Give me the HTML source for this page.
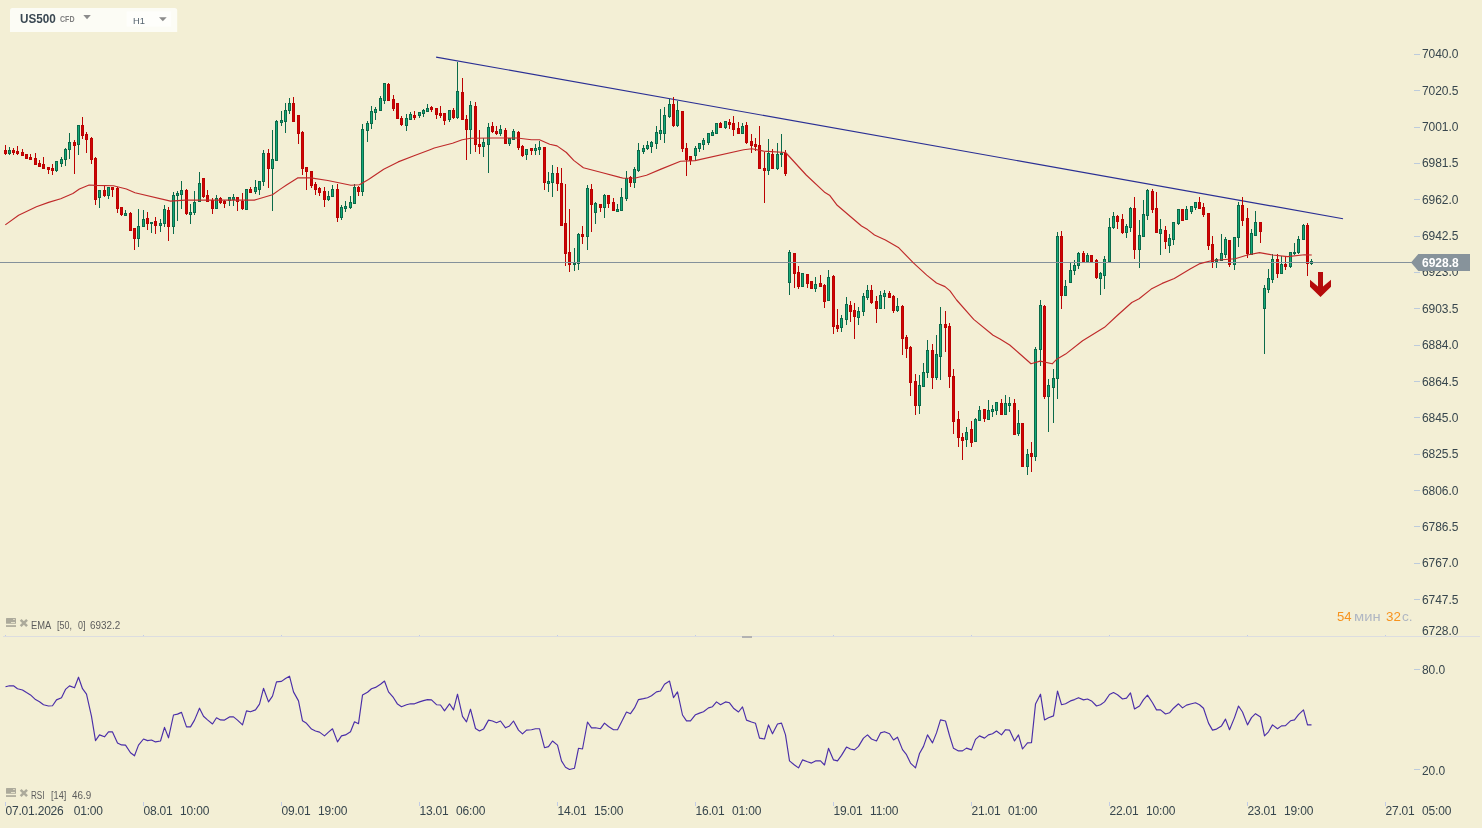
<!DOCTYPE html>
<html><head><meta charset="utf-8"><title>US500 H1</title>
<style>
html,body{margin:0;padding:0}
body{width:1482px;height:828px;overflow:hidden;background:#f3efd5;font-family:"Liberation Sans",sans-serif;position:relative}
.a{position:absolute;white-space:pre;line-height:1}
.pl{font-size:12px;color:#37464d;left:1422px;letter-spacing:-0.08px}
.tl{font-size:12px;color:#37464d;top:805px;letter-spacing:-0.2px}
.lg{font-size:10px;color:#5c5c5c}
svg{position:absolute;left:0;top:0}
</style></head><body>

<svg width="1482" height="828" viewBox="0 0 1482 828">
<rect x="3" y="636" width="1477" height="1" fill="#dcdde0"/>
<rect x="742" y="636" width="10" height="2" fill="#b2b2b2"/>
<path d="M5 635h1v1h-1zM5 802h1v4h-1zM143 635h1v1h-1zM143 802h1v4h-1zM281 635h1v1h-1zM281 802h1v4h-1zM419 635h1v1h-1zM419 802h1v4h-1zM557 635h1v1h-1zM557 802h1v4h-1zM695 635h1v1h-1zM695 802h1v4h-1zM833 635h1v1h-1zM833 802h1v4h-1zM971 635h1v1h-1zM971 802h1v4h-1zM1109 635h1v1h-1zM1109 802h1v4h-1zM1247 635h1v1h-1zM1247 802h1v4h-1zM1385 635h1v1h-1zM1385 802h1v4h-1z" fill="#c2cce6" shape-rendering="crispEdges"/>
<path d="M1414 54h6v1h-6zM1414 90h6v1h-6zM1414 127h6v1h-6zM1414 163h6v1h-6zM1414 199h6v1h-6zM1414 236h6v1h-6zM1414 272h6v1h-6zM1414 308h6v1h-6zM1414 345h6v1h-6zM1414 381h6v1h-6zM1414 417h6v1h-6zM1414 454h6v1h-6zM1414 490h6v1h-6zM1414 526h6v1h-6zM1414 563h6v1h-6zM1414 599h6v1h-6zM1414 669h6v1h-6zM1414 769h6v1h-6z" fill="#bccbdc" shape-rendering="crispEdges"/>
<line x1="436.1" y1="57.1" x2="1343" y2="218.7" stroke="#2a2f94" stroke-width="1.15"/>
<g shape-rendering="crispEdges"><path d="M9 147h1v8h-1zM56 161h1v11h-1zM61 157h1v10h-1zM65 148h1v18h-1zM69 133h1v26h-1zM78 125h1v30h-1zM99 190h1v18h-1zM108 187h1v12h-1zM125 210h1v6h-1zM138 209h1v38h-1zM143 210h1v17h-1zM151 222h1v11h-1zM160 219h1v13h-1zM164 205h1v22h-1zM173 192h1v42h-1zM177 191h1v30h-1zM181 181h1v28h-1zM190 204h1v20h-1zM194 191h1v24h-1zM199 172h1v30h-1zM216 195h1v14h-1zM229 197h1v9h-1zM233 194h1v12h-1zM246 189h1v21h-1zM255 180h1v14h-1zM259 181h1v14h-1zM263 150h1v36h-1zM272 130h1v81h-1zM276 120h1v41h-1zM281 111h1v15h-1zM285 103h1v30h-1zM289 98h1v16h-1zM328 191h1v10h-1zM332 185h1v12h-1zM341 205h1v15h-1zM345 201h1v11h-1zM350 196h1v13h-1zM354 184h1v20h-1zM362 124h1v72h-1zM367 121h1v21h-1zM371 106h1v23h-1zM375 107h1v13h-1zM380 96h1v15h-1zM384 83h1v21h-1zM406 114h1v17h-1zM410 112h1v8h-1zM419 112h1v6h-1zM423 109h1v8h-1zM427 104h1v8h-1zM449 110h1v12h-1zM457 62h1v57h-1zM470 101h1v53h-1zM483 138h1v19h-1zM488 123h1v50h-1zM500 125h1v11h-1zM509 138h1v8h-1zM513 129h1v11h-1zM526 149h1v11h-1zM535 144h1v11h-1zM539 141h1v14h-1zM548 172h1v20h-1zM552 165h1v32h-1zM574 248h1v23h-1zM578 233h1v37h-1zM587 185h1v65h-1zM595 202h1v22h-1zM604 194h1v24h-1zM617 204h1v8h-1zM621 188h1v23h-1zM626 171h1v30h-1zM634 167h1v21h-1zM638 143h1v29h-1zM643 145h1v9h-1zM647 141h1v9h-1zM651 141h1v12h-1zM656 126h1v23h-1zM660 109h1v31h-1zM664 107h1v36h-1zM669 99h1v19h-1zM677 101h1v26h-1zM695 146h1v15h-1zM699 143h1v9h-1zM703 138h1v12h-1zM708 133h1v12h-1zM712 130h1v6h-1zM716 123h1v11h-1zM725 121h1v8h-1zM742 123h1v11h-1zM768 139h1v36h-1zM777 143h1v27h-1zM781 134h1v33h-1zM789 250h1v45h-1zM802 273h1v14h-1zM815 277h1v15h-1zM828 270h1v31h-1zM841 315h1v17h-1zM846 297h1v28h-1zM858 307h1v18h-1zM863 293h1v23h-1zM867 285h1v15h-1zM880 291h1v18h-1zM884 290h1v19h-1zM897 298h1v14h-1zM919 375h1v39h-1zM923 363h1v24h-1zM927 340h1v38h-1zM936 335h1v45h-1zM940 307h1v73h-1zM966 427h1v20h-1zM975 418h1v24h-1zM979 406h1v15h-1zM988 400h1v20h-1zM992 405h1v12h-1zM996 402h1v13h-1zM1005 395h1v20h-1zM1009 397h1v15h-1zM1018 410h1v26h-1zM1027 449h1v26h-1zM1035 347h1v114h-1zM1040 300h1v66h-1zM1048 379h1v53h-1zM1053 369h1v54h-1zM1057 232h1v167h-1zM1065 280h1v16h-1zM1070 263h1v20h-1zM1074 260h1v15h-1zM1078 252h1v17h-1zM1087 253h1v9h-1zM1100 272h1v23h-1zM1104 256h1v33h-1zM1109 218h1v44h-1zM1113 212h1v17h-1zM1126 224h1v14h-1zM1130 207h1v25h-1zM1139 220h1v48h-1zM1143 200h1v37h-1zM1147 189h1v31h-1zM1160 219h1v36h-1zM1169 234h1v19h-1zM1173 222h1v23h-1zM1178 209h1v16h-1zM1186 206h1v14h-1zM1191 206h1v8h-1zM1195 202h1v8h-1zM1216 258h1v10h-1zM1221 234h1v27h-1zM1225 237h1v21h-1zM1234 237h1v33h-1zM1238 202h1v45h-1zM1251 229h1v26h-1zM1255 211h1v25h-1zM1264 285h1v69h-1zM1268 269h1v24h-1zM1272 254h1v29h-1zM1281 256h1v18h-1zM1290 252h1v16h-1zM1294 243h1v12h-1zM1298 236h1v18h-1zM1303 224h1v16h-1zM1311 259h1v6h-1z" fill="#0b6a4a"/><path d="M5 145h1v10h-1zM13 148h1v7h-1zM17 146h1v9h-1zM22 149h1v7h-1zM26 154h1v5h-1zM30 154h1v6h-1zM35 153h1v12h-1zM39 160h1v7h-1zM43 157h1v12h-1zM48 167h1v7h-1zM52 164h1v11h-1zM74 140h1v34h-1zM82 117h1v22h-1zM86 132h1v21h-1zM91 137h1v27h-1zM95 157h1v48h-1zM104 186h1v11h-1zM112 187h1v10h-1zM117 187h1v26h-1zM121 207h1v9h-1zM130 212h1v19h-1zM134 228h1v22h-1zM147 212h1v18h-1zM155 217h1v17h-1zM168 207h1v34h-1zM186 189h1v26h-1zM203 178h1v20h-1zM207 190h1v12h-1zM212 198h1v16h-1zM220 197h1v7h-1zM224 200h1v8h-1zM237 197h1v14h-1zM242 193h1v17h-1zM250 187h1v6h-1zM268 149h1v39h-1zM293 97h1v25h-1zM298 115h1v29h-1zM302 131h1v44h-1zM306 167h1v23h-1zM311 171h1v17h-1zM315 182h1v13h-1zM319 187h1v9h-1zM324 187h1v20h-1zM337 184h1v38h-1zM358 186h1v10h-1zM388 83h1v18h-1zM393 95h1v16h-1zM397 103h1v16h-1zM401 116h1v10h-1zM414 111h1v9h-1zM431 106h1v6h-1zM436 108h1v11h-1zM440 106h1v12h-1zM444 113h1v12h-1zM453 108h1v11h-1zM462 78h1v42h-1zM466 115h1v45h-1zM475 102h1v50h-1zM479 130h1v24h-1zM492 122h1v11h-1zM496 126h1v9h-1zM505 128h1v16h-1zM518 131h1v19h-1zM522 145h1v12h-1zM531 148h1v7h-1zM544 147h1v43h-1zM557 167h1v24h-1zM561 168h1v58h-1zM565 184h1v82h-1zM569 209h1v63h-1zM582 226h1v18h-1zM591 184h1v48h-1zM600 204h1v8h-1zM608 195h1v13h-1zM613 198h1v13h-1zM630 176h1v11h-1zM673 97h1v30h-1zM682 111h1v41h-1zM686 143h1v33h-1zM690 156h1v9h-1zM720 122h1v6h-1zM729 119h1v10h-1zM733 116h1v20h-1zM738 122h1v12h-1zM746 122h1v22h-1zM751 134h1v19h-1zM755 138h1v13h-1zM759 126h1v43h-1zM764 152h1v51h-1zM772 149h1v20h-1zM785 150h1v26h-1zM794 253h1v35h-1zM798 266h1v23h-1zM807 274h1v14h-1zM811 281h1v8h-1zM820 275h1v12h-1zM824 284h1v24h-1zM833 275h1v59h-1zM837 309h1v23h-1zM850 301h1v21h-1zM854 303h1v36h-1zM871 285h1v19h-1zM876 296h1v27h-1zM889 291h1v7h-1zM893 295h1v18h-1zM902 305h1v50h-1zM906 335h1v23h-1zM910 346h1v50h-1zM915 374h1v41h-1zM932 344h1v45h-1zM945 311h1v41h-1zM949 323h1v65h-1zM953 369h1v65h-1zM958 411h1v36h-1zM962 433h1v27h-1zM971 421h1v26h-1zM984 409h1v13h-1zM1001 399h1v16h-1zM1014 399h1v36h-1zM1022 423h1v44h-1zM1031 442h1v30h-1zM1044 305h1v94h-1zM1061 231h1v78h-1zM1083 251h1v11h-1zM1091 255h1v7h-1zM1096 259h1v20h-1zM1117 215h1v14h-1zM1122 214h1v20h-1zM1134 197h1v62h-1zM1152 189h1v24h-1zM1156 192h1v41h-1zM1165 226h1v23h-1zM1182 209h1v12h-1zM1199 197h1v12h-1zM1203 203h1v14h-1zM1208 213h1v37h-1zM1212 236h1v32h-1zM1229 240h1v27h-1zM1242 197h1v29h-1zM1247 208h1v50h-1zM1260 222h1v21h-1zM1277 254h1v24h-1zM1285 257h1v13h-1zM1307 223h1v53h-1z" fill="#bb0202"/><path d="M8 150h3v4h-3zM55 161h3v10h-3zM60 159h3v5h-3zM64 149h3v11h-3zM68 142h3v8h-3zM77 125h3v20h-3zM98 190h3v8h-3zM107 187h3v9h-3zM124 213h3v3h-3zM137 226h3v13h-3zM142 219h3v8h-3zM150 222h3v2h-3zM159 223h3v3h-3zM163 209h3v15h-3zM172 195h3v32h-3zM176 193h3v3h-3zM180 190h3v5h-3zM189 212h3v3h-3zM193 202h3v11h-3zM198 183h3v19h-3zM215 198h3v11h-3zM228 197h3v4h-3zM232 197h3v3h-3zM245 189h3v21h-3zM254 187h3v5h-3zM258 181h3v9h-3zM262 153h3v29h-3zM271 159h3v10h-3zM275 121h3v40h-3zM280 120h3v3h-3zM284 110h3v12h-3zM288 103h3v8h-3zM327 196h3v4h-3zM331 189h3v8h-3zM340 207h3v11h-3zM344 206h3v3h-3zM349 202h3v6h-3zM353 187h3v17h-3zM361 129h3v63h-3zM366 123h3v8h-3zM370 111h3v13h-3zM374 109h3v4h-3zM379 98h3v13h-3zM383 83h3v18h-3zM405 118h3v8h-3zM409 114h3v6h-3zM418 112h3v4h-3zM422 110h3v4h-3zM426 108h3v4h-3zM448 110h3v10h-3zM456 91h3v27h-3zM469 105h3v25h-3zM482 142h3v5h-3zM487 127h3v18h-3zM499 129h3v5h-3zM508 138h3v6h-3zM512 131h3v9h-3zM525 149h3v6h-3zM534 148h3v3h-3zM538 147h3v3h-3zM547 181h3v3h-3zM551 173h3v10h-3zM573 263h3v2h-3zM577 234h3v30h-3zM586 188h3v49h-3zM594 203h3v10h-3zM603 195h3v13h-3zM616 209h3v3h-3zM620 197h3v14h-3zM625 178h3v21h-3zM633 169h3v14h-3zM637 150h3v21h-3zM642 148h3v4h-3zM646 145h3v4h-3zM650 142h3v5h-3zM655 132h3v12h-3zM659 130h3v4h-3zM663 115h3v19h-3zM668 104h3v13h-3zM676 110h3v16h-3zM694 148h3v8h-3zM698 143h3v6h-3zM702 140h3v5h-3zM707 133h3v10h-3zM711 132h3v4h-3zM715 123h3v11h-3zM724 121h3v7h-3zM741 126h3v8h-3zM767 153h3v18h-3zM776 154h3v15h-3zM780 153h3v2h-3zM788 252h3v31h-3zM801 273h3v14h-3zM814 284h3v5h-3zM827 277h3v24h-3zM840 318h3v10h-3zM845 304h3v16h-3zM857 311h3v7h-3zM862 296h3v16h-3zM866 290h3v8h-3zM879 295h3v14h-3zM883 293h3v4h-3zM896 306h3v5h-3zM918 385h3v21h-3zM922 372h3v15h-3zM926 350h3v23h-3zM935 354h3v24h-3zM939 324h3v33h-3zM965 432h3v8h-3zM974 419h3v23h-3zM978 410h3v11h-3zM987 410h3v10h-3zM991 409h3v3h-3zM995 402h3v9h-3zM1004 403h3v12h-3zM1008 403h3v3h-3zM1017 423h3v11h-3zM1026 454h3v13h-3zM1034 349h3v108h-3zM1039 305h3v45h-3zM1047 385h3v12h-3zM1052 378h3v10h-3zM1056 236h3v143h-3zM1064 286h3v10h-3zM1069 270h3v13h-3zM1073 265h3v6h-3zM1077 253h3v13h-3zM1086 255h3v7h-3zM1099 273h3v6h-3zM1103 259h3v17h-3zM1108 227h3v35h-3zM1112 216h3v12h-3zM1125 226h3v7h-3zM1129 208h3v20h-3zM1138 235h3v15h-3zM1142 214h3v23h-3zM1146 190h3v26h-3zM1159 229h3v5h-3zM1168 238h3v8h-3zM1172 222h3v18h-3zM1177 209h3v15h-3zM1185 209h3v11h-3zM1190 206h3v6h-3zM1194 202h3v6h-3zM1215 259h3v3h-3zM1220 253h3v8h-3zM1224 239h3v16h-3zM1233 237h3v28h-3zM1237 205h3v33h-3zM1250 233h3v22h-3zM1254 222h3v14h-3zM1263 288h3v21h-3zM1267 278h3v12h-3zM1271 259h3v21h-3zM1280 264h3v10h-3zM1289 252h3v15h-3zM1293 252h3v2h-3zM1297 239h3v14h-3zM1302 225h3v15h-3zM1310 261h3v3h-3z" fill="#0b6a4a"/><path d="M9 151h1v2h-1zM56 162h1v8h-1zM61 160h1v3h-1zM65 150h1v9h-1zM69 143h1v6h-1zM78 126h1v18h-1zM99 191h1v6h-1zM108 188h1v7h-1zM125 214h1v1h-1zM138 227h1v11h-1zM143 220h1v6h-1zM160 224h1v1h-1zM164 210h1v13h-1zM173 196h1v30h-1zM177 194h1v1h-1zM181 191h1v3h-1zM190 213h1v1h-1zM194 203h1v9h-1zM199 184h1v17h-1zM216 199h1v9h-1zM229 198h1v2h-1zM233 198h1v1h-1zM246 190h1v19h-1zM255 188h1v3h-1zM259 182h1v7h-1zM263 154h1v27h-1zM272 160h1v8h-1zM276 122h1v38h-1zM281 121h1v1h-1zM285 111h1v10h-1zM289 104h1v6h-1zM328 197h1v2h-1zM332 190h1v6h-1zM341 208h1v9h-1zM345 207h1v1h-1zM350 203h1v4h-1zM354 188h1v15h-1zM362 130h1v61h-1zM367 124h1v6h-1zM371 112h1v11h-1zM375 110h1v2h-1zM380 99h1v11h-1zM384 84h1v16h-1zM406 119h1v6h-1zM410 115h1v4h-1zM419 113h1v2h-1zM423 111h1v2h-1zM427 109h1v2h-1zM449 111h1v8h-1zM457 92h1v25h-1zM470 106h1v23h-1zM483 143h1v3h-1zM488 128h1v16h-1zM500 130h1v3h-1zM509 139h1v4h-1zM513 132h1v7h-1zM526 150h1v4h-1zM535 149h1v1h-1zM539 148h1v1h-1zM548 182h1v1h-1zM552 174h1v8h-1zM578 235h1v28h-1zM587 189h1v47h-1zM595 204h1v8h-1zM604 196h1v11h-1zM617 210h1v1h-1zM621 198h1v12h-1zM626 179h1v19h-1zM634 170h1v12h-1zM638 151h1v19h-1zM643 149h1v2h-1zM647 146h1v2h-1zM651 143h1v3h-1zM656 133h1v10h-1zM660 131h1v2h-1zM664 116h1v17h-1zM669 105h1v11h-1zM677 111h1v14h-1zM695 149h1v6h-1zM699 144h1v4h-1zM703 141h1v3h-1zM708 134h1v8h-1zM712 133h1v2h-1zM716 124h1v9h-1zM725 122h1v5h-1zM742 127h1v6h-1zM768 154h1v16h-1zM777 155h1v13h-1zM789 253h1v29h-1zM802 274h1v12h-1zM815 285h1v3h-1zM828 278h1v22h-1zM841 319h1v8h-1zM846 305h1v14h-1zM858 312h1v5h-1zM863 297h1v14h-1zM867 291h1v6h-1zM880 296h1v12h-1zM884 294h1v2h-1zM897 307h1v3h-1zM919 386h1v19h-1zM923 373h1v13h-1zM927 351h1v21h-1zM936 355h1v22h-1zM940 325h1v31h-1zM966 433h1v6h-1zM975 420h1v21h-1zM979 411h1v9h-1zM988 411h1v8h-1zM992 410h1v1h-1zM996 403h1v7h-1zM1005 404h1v10h-1zM1009 404h1v1h-1zM1018 424h1v9h-1zM1027 455h1v11h-1zM1035 350h1v106h-1zM1040 306h1v43h-1zM1048 386h1v10h-1zM1053 379h1v8h-1zM1057 237h1v141h-1zM1065 287h1v8h-1zM1070 271h1v11h-1zM1074 266h1v4h-1zM1078 254h1v11h-1zM1087 256h1v5h-1zM1100 274h1v4h-1zM1104 260h1v15h-1zM1109 228h1v33h-1zM1113 217h1v10h-1zM1126 227h1v5h-1zM1130 209h1v18h-1zM1139 236h1v13h-1zM1143 215h1v21h-1zM1147 191h1v24h-1zM1160 230h1v3h-1zM1169 239h1v6h-1zM1173 223h1v16h-1zM1178 210h1v13h-1zM1186 210h1v9h-1zM1191 207h1v4h-1zM1195 203h1v4h-1zM1216 260h1v1h-1zM1221 254h1v6h-1zM1225 240h1v14h-1zM1234 238h1v26h-1zM1238 206h1v31h-1zM1251 234h1v20h-1zM1255 223h1v12h-1zM1264 289h1v19h-1zM1268 279h1v10h-1zM1272 260h1v19h-1zM1281 265h1v8h-1zM1290 253h1v13h-1zM1298 240h1v12h-1zM1303 226h1v13h-1zM1311 262h1v1h-1z" fill="#14a878"/><path d="M4 150h3v4h-3zM12 150h3v3h-3zM16 151h3v3h-3zM21 152h3v4h-3zM25 154h3v5h-3zM29 157h3v3h-3zM34 158h3v7h-3zM38 163h3v4h-3zM42 164h3v5h-3zM47 167h3v3h-3zM51 168h3v3h-3zM73 142h3v4h-3zM81 125h3v11h-3zM85 134h3v6h-3zM90 138h3v22h-3zM94 158h3v42h-3zM103 190h3v6h-3zM111 187h3v3h-3zM116 188h3v21h-3zM120 207h3v8h-3zM129 213h3v18h-3zM133 228h3v11h-3zM146 218h3v6h-3zM154 221h3v5h-3zM167 210h3v17h-3zM185 190h3v24h-3zM202 178h3v19h-3zM206 195h3v7h-3zM211 200h3v9h-3zM219 198h3v5h-3zM223 201h3v3h-3zM236 197h3v5h-3zM241 201h3v8h-3zM249 189h3v4h-3zM267 153h3v16h-3zM292 103h3v19h-3zM297 115h3v19h-3zM301 132h3v37h-3zM305 167h3v5h-3zM310 171h3v15h-3zM314 184h3v6h-3zM318 188h3v5h-3zM323 191h3v9h-3zM336 189h3v29h-3zM357 187h3v5h-3zM387 84h3v17h-3zM392 99h3v10h-3zM396 103h3v16h-3zM400 118h3v7h-3zM413 115h3v3h-3zM430 107h3v3h-3zM435 108h3v7h-3zM439 113h3v3h-3zM443 113h3v8h-3zM452 110h3v8h-3zM461 92h3v28h-3zM465 119h3v11h-3zM474 106h3v39h-3zM478 144h3v3h-3zM491 126h3v6h-3zM495 131h3v3h-3zM504 130h3v14h-3zM517 132h3v16h-3zM521 146h3v10h-3zM530 148h3v3h-3zM543 147h3v36h-3zM556 173h3v11h-3zM560 183h3v43h-3zM564 223h3v31h-3zM568 252h3v13h-3zM581 234h3v3h-3zM590 189h3v16h-3zM599 204h3v4h-3zM607 195h3v9h-3zM612 202h3v9h-3zM629 177h3v6h-3zM672 104h3v22h-3zM681 111h3v38h-3zM685 148h3v12h-3zM689 156h3v5h-3zM719 123h3v5h-3zM728 122h3v3h-3zM732 123h3v7h-3zM737 128h3v6h-3zM745 125h3v18h-3zM750 141h3v5h-3zM754 144h3v3h-3zM758 145h3v24h-3zM763 168h3v3h-3zM771 154h3v15h-3zM784 153h3v21h-3zM793 253h3v21h-3zM797 272h3v15h-3zM806 274h3v10h-3zM810 281h3v8h-3zM819 283h3v4h-3zM823 285h3v17h-3zM832 276h3v51h-3zM836 325h3v4h-3zM849 305h3v7h-3zM853 310h3v7h-3zM870 290h3v13h-3zM875 301h3v8h-3zM888 293h3v5h-3zM892 296h3v15h-3zM901 306h3v33h-3zM905 337h3v12h-3zM909 347h3v36h-3zM914 381h3v25h-3zM931 350h3v28h-3zM944 324h3v4h-3zM948 326h3v51h-3zM952 376h3v46h-3zM957 419h3v19h-3zM961 437h3v4h-3zM970 429h3v14h-3zM983 409h3v10h-3zM1000 403h3v12h-3zM1013 403h3v32h-3zM1021 423h3v44h-3zM1030 453h3v4h-3zM1043 306h3v91h-3zM1060 236h3v60h-3zM1082 253h3v9h-3zM1090 255h3v7h-3zM1095 260h3v18h-3zM1116 216h3v6h-3zM1121 219h3v14h-3zM1133 208h3v42h-3zM1151 191h3v19h-3zM1155 208h3v25h-3zM1164 230h3v12h-3zM1181 209h3v12h-3zM1198 202h3v7h-3zM1202 207h3v8h-3zM1207 213h3v33h-3zM1211 244h3v18h-3zM1228 240h3v25h-3zM1241 205h3v16h-3zM1246 218h3v36h-3zM1259 222h3v10h-3zM1276 259h3v15h-3zM1284 264h3v3h-3zM1306 225h3v39h-3z" fill="#bb0202"/><path d="M5 151h1v2h-1zM13 151h1v1h-1zM17 152h1v1h-1zM22 153h1v2h-1zM26 155h1v3h-1zM30 158h1v1h-1zM35 159h1v5h-1zM39 164h1v2h-1zM43 165h1v3h-1zM48 168h1v1h-1zM52 169h1v1h-1zM74 143h1v2h-1zM82 126h1v9h-1zM86 135h1v4h-1zM91 139h1v20h-1zM95 159h1v40h-1zM104 191h1v4h-1zM112 188h1v1h-1zM117 189h1v19h-1zM121 208h1v6h-1zM130 214h1v16h-1zM134 229h1v9h-1zM147 219h1v4h-1zM155 222h1v3h-1zM168 211h1v15h-1zM186 191h1v22h-1zM203 179h1v17h-1zM207 196h1v5h-1zM212 201h1v7h-1zM220 199h1v3h-1zM224 202h1v1h-1zM237 198h1v3h-1zM242 202h1v6h-1zM250 190h1v2h-1zM268 154h1v14h-1zM293 104h1v17h-1zM298 116h1v17h-1zM302 133h1v35h-1zM306 168h1v3h-1zM311 172h1v13h-1zM315 185h1v4h-1zM319 189h1v3h-1zM324 192h1v7h-1zM337 190h1v27h-1zM358 188h1v3h-1zM388 85h1v15h-1zM393 100h1v8h-1zM397 104h1v14h-1zM401 119h1v5h-1zM414 116h1v1h-1zM431 108h1v1h-1zM436 109h1v5h-1zM440 114h1v1h-1zM444 114h1v6h-1zM453 111h1v6h-1zM462 93h1v26h-1zM466 120h1v9h-1zM475 107h1v37h-1zM479 145h1v1h-1zM492 127h1v4h-1zM496 132h1v1h-1zM505 131h1v12h-1zM518 133h1v14h-1zM522 147h1v8h-1zM531 149h1v1h-1zM544 148h1v34h-1zM557 174h1v9h-1zM561 184h1v41h-1zM565 224h1v29h-1zM569 253h1v11h-1zM582 235h1v1h-1zM591 190h1v14h-1zM600 205h1v2h-1zM608 196h1v7h-1zM613 203h1v7h-1zM630 178h1v4h-1zM673 105h1v20h-1zM682 112h1v36h-1zM686 149h1v10h-1zM690 157h1v3h-1zM720 124h1v3h-1zM729 123h1v1h-1zM733 124h1v5h-1zM738 129h1v4h-1zM746 126h1v16h-1zM751 142h1v3h-1zM755 145h1v1h-1zM759 146h1v22h-1zM764 169h1v1h-1zM772 155h1v13h-1zM785 154h1v19h-1zM794 254h1v19h-1zM798 273h1v13h-1zM807 275h1v8h-1zM811 282h1v6h-1zM820 284h1v2h-1zM824 286h1v15h-1zM833 277h1v49h-1zM837 326h1v2h-1zM850 306h1v5h-1zM854 311h1v5h-1zM871 291h1v11h-1zM876 302h1v6h-1zM889 294h1v3h-1zM893 297h1v13h-1zM902 307h1v31h-1zM906 338h1v10h-1zM910 348h1v34h-1zM915 382h1v23h-1zM932 351h1v26h-1zM945 325h1v2h-1zM949 327h1v49h-1zM953 377h1v44h-1zM958 420h1v17h-1zM962 438h1v2h-1zM971 430h1v12h-1zM984 410h1v8h-1zM1001 404h1v10h-1zM1014 404h1v30h-1zM1022 424h1v42h-1zM1031 454h1v2h-1zM1044 307h1v89h-1zM1061 237h1v58h-1zM1083 254h1v7h-1zM1091 256h1v5h-1zM1096 261h1v16h-1zM1117 217h1v4h-1zM1122 220h1v12h-1zM1134 209h1v40h-1zM1152 192h1v17h-1zM1156 209h1v23h-1zM1165 231h1v10h-1zM1182 210h1v10h-1zM1199 203h1v5h-1zM1203 208h1v6h-1zM1208 214h1v31h-1zM1212 245h1v16h-1zM1229 241h1v23h-1zM1242 206h1v14h-1zM1247 219h1v34h-1zM1260 223h1v8h-1zM1277 260h1v13h-1zM1285 265h1v1h-1zM1307 226h1v37h-1z" fill="#d00404"/></g>
<rect x="0" y="262" width="1412" height="1" fill="#84919b"/>
<path d="M5.3 224.9 L18.6 215.3 L36.4 206.8 L48.6 202.4 L60.7 198.7 L72.9 193.5 L79.4 189.0 L89.1 185.0 L95.5 185.4 L113.4 185.8 L126.4 189.0 L135.0 192.8 L170.5 201.1 L185.0 200.1 L254.3 200.1 L257.3 199.2 L272.5 194.7 L280.0 189.4 L286.5 185.0 L298.0 177.7 L310.8 177.9 L327.8 180.5 L350.9 185.2 L359.4 184.7 L368.5 179.5 L383.7 169.2 L398.2 161.9 L414.0 155.8 L430.0 149.7 L434.3 148.0 L452.5 143.3 L462.2 139.7 L470.8 138.2 L492.6 138.0 L517.0 138.0 L531.5 139.7 L539.5 139.7 L549.7 144.3 L557.0 145.9 L566.4 152.5 L573.7 160.4 L583.4 167.7 L601.6 172.5 L620.0 177.4 L623.4 178.2 L635.5 178.0 L646.5 175.2 L661.0 169.1 L680.5 161.2 L695.0 160.6 L743.7 149.7 L751.9 148.8 L763.7 151.1 L785.6 152.5 L806.2 175.0 L825.0 192.6 L829.9 195.6 L837.2 205.3 L861.5 226.0 L867.6 229.6 L874.5 235.0 L885.4 239.9 L898.8 247.8 L913.4 262.9 L926.7 275.1 L936.5 283.0 L945.0 286.6 L950.0 290.9 L956.6 300.0 L973.7 319.4 L993.1 335.2 L1000.0 338.9 L1009.7 345.0 L1019.4 353.5 L1031.0 363.8 L1040.1 361.1 L1052.2 363.8 L1057.1 358.9 L1065.6 354.1 L1082.6 340.7 L1104.5 327.3 L1117.8 315.0 L1131.8 302.5 L1139.1 298.8 L1151.2 289.1 L1162.2 283.4 L1174.3 278.5 L1190.1 269.1 L1200.0 263.6 L1212.2 260.5 L1235.2 258.7 L1247.4 255.0 L1259.5 252.6 L1272.9 255.0 L1287.5 256.6 L1304.5 254.8 L1311.8 255.0" fill="none" stroke="#bf2a2a" stroke-width="1.15" stroke-linejoin="round"/>
<path d="M5.5 686.8 L9.5 685.8 L13.5 685.8 L17.5 688.7 L22.5 690.0 L26.5 692.6 L30.5 694.9 L35.5 699.6 L39.5 701.8 L43.5 704.7 L48.5 706.0 L52.5 705.8 L56.5 699.9 L61.5 697.7 L65.5 689.4 L69.5 685.9 L74.5 687.8 L78.5 677.2 L82.5 688.7 L86.5 694.2 L91.5 716.3 L95.5 740.6 L99.5 734.9 L104.5 736.8 L108.5 731.9 L112.5 731.9 L117.5 742.9 L121.5 744.9 L125.5 745.1 L130.5 752.8 L134.5 755.8 L138.5 745.1 L143.5 739.0 L147.5 740.6 L151.5 740.0 L155.5 741.9 L160.5 741.0 L164.5 727.4 L168.5 737.8 L173.5 715.0 L177.5 714.1 L181.5 712.4 L186.5 726.9 L190.5 726.9 L194.5 720.1 L199.5 708.2 L203.5 716.3 L207.5 719.9 L212.5 724.0 L216.5 717.8 L220.5 719.9 L224.5 720.1 L229.5 716.9 L233.5 716.9 L237.5 720.1 L242.5 724.9 L246.5 710.9 L250.5 711.8 L255.5 709.9 L259.5 704.1 L263.5 688.3 L268.5 701.9 L272.5 696.2 L276.5 681.9 L281.5 681.4 L285.5 678.5 L289.5 676.2 L293.5 691.9 L298.5 700.9 L302.5 720.8 L306.5 723.3 L311.5 729.1 L315.5 731.0 L319.5 732.1 L324.5 735.9 L328.5 732.1 L332.5 728.8 L337.5 741.9 L341.5 735.9 L345.5 734.9 L350.5 731.7 L354.5 721.8 L358.5 723.7 L362.5 695.1 L367.5 692.3 L371.5 688.7 L375.5 687.4 L380.5 684.2 L384.5 681.0 L388.5 691.9 L393.5 697.7 L397.5 704.1 L401.5 706.7 L406.5 704.7 L410.5 703.8 L414.5 703.8 L419.5 701.9 L423.5 700.6 L427.5 699.6 L431.5 699.9 L436.5 704.7 L440.5 705.0 L444.5 710.8 L449.5 703.8 L453.5 709.9 L457.5 694.2 L462.5 716.3 L466.5 721.8 L470.5 709.2 L475.5 728.5 L479.5 731.0 L483.5 729.1 L488.5 720.1 L492.5 721.0 L496.5 722.7 L500.5 721.0 L505.5 727.8 L509.5 725.9 L513.5 721.0 L518.5 730.1 L522.5 733.8 L526.5 730.1 L531.5 729.7 L535.5 728.7 L539.5 728.7 L544.5 747.7 L548.5 746.6 L552.5 741.0 L557.5 745.1 L561.5 760.9 L565.5 767.2 L569.5 769.5 L574.5 768.2 L578.5 748.3 L582.5 749.0 L587.5 722.0 L591.5 727.8 L595.5 727.8 L600.5 728.7 L604.5 723.1 L608.5 726.5 L613.5 729.7 L617.5 729.7 L621.5 722.0 L626.5 712.0 L630.5 713.7 L634.5 707.9 L638.5 699.6 L643.5 698.6 L647.5 697.7 L651.5 695.8 L656.5 691.9 L660.5 691.0 L664.5 684.2 L669.5 681.0 L673.5 697.7 L677.5 691.9 L682.5 715.0 L686.5 720.8 L690.5 720.8 L695.5 714.7 L699.5 713.1 L703.5 711.8 L708.5 707.9 L712.5 706.7 L716.5 701.9 L720.5 704.7 L725.5 701.9 L729.5 702.8 L733.5 708.2 L738.5 712.0 L742.5 706.9 L746.5 720.1 L751.5 722.0 L755.5 723.3 L759.5 738.1 L764.5 739.0 L768.5 724.9 L772.5 733.8 L777.5 724.0 L781.5 723.1 L785.5 734.9 L789.5 760.9 L794.5 765.0 L798.5 767.9 L802.5 759.9 L807.5 761.8 L811.5 763.1 L815.5 760.9 L820.5 760.9 L824.5 765.0 L828.5 748.3 L833.5 759.9 L837.5 760.9 L841.5 755.4 L846.5 747.1 L850.5 749.0 L854.5 749.9 L858.5 746.4 L863.5 738.1 L867.5 734.9 L871.5 739.0 L876.5 741.0 L880.5 732.9 L884.5 731.7 L889.5 733.8 L893.5 740.0 L897.5 737.2 L902.5 749.6 L906.5 754.7 L910.5 763.1 L915.5 767.9 L919.5 753.5 L923.5 746.4 L927.5 734.9 L932.5 742.9 L936.5 732.9 L940.5 719.9 L945.5 721.0 L949.5 735.5 L953.5 748.3 L958.5 750.9 L962.5 750.9 L966.5 748.1 L971.5 749.9 L975.5 739.4 L979.5 735.9 L984.5 738.1 L988.5 734.9 L992.5 733.8 L996.5 731.0 L1001.5 734.9 L1005.5 729.7 L1009.5 730.1 L1014.5 741.0 L1018.5 734.9 L1022.5 749.0 L1027.5 742.9 L1031.5 742.6 L1035.5 704.1 L1040.5 694.2 L1044.5 719.9 L1048.5 717.8 L1053.5 715.9 L1057.5 691.0 L1061.5 704.7 L1065.5 703.8 L1070.5 700.9 L1074.5 699.6 L1078.5 697.7 L1083.5 699.9 L1087.5 699.0 L1091.5 700.9 L1096.5 706.0 L1100.5 704.7 L1104.5 701.9 L1109.5 694.5 L1113.5 692.6 L1117.5 694.7 L1122.5 699.0 L1126.5 698.1 L1130.5 692.9 L1134.5 709.0 L1139.5 706.0 L1143.5 699.6 L1147.5 695.1 L1152.5 702.8 L1156.5 709.9 L1160.5 709.9 L1165.5 714.0 L1169.5 712.8 L1173.5 708.2 L1178.5 703.8 L1182.5 707.9 L1186.5 705.1 L1191.5 703.8 L1195.5 702.8 L1199.5 704.7 L1203.5 708.2 L1208.5 723.1 L1212.5 730.1 L1216.5 729.1 L1221.5 725.9 L1225.5 719.1 L1229.5 729.7 L1234.5 717.6 L1238.5 706.0 L1242.5 712.0 L1247.5 724.9 L1251.5 717.6 L1255.5 713.7 L1260.5 716.9 L1264.5 735.9 L1268.5 731.8 L1272.5 724.9 L1277.5 728.7 L1281.5 725.9 L1285.5 725.6 L1290.5 720.8 L1294.5 719.9 L1298.5 714.7 L1303.5 709.9 L1307.5 724.9 L1311.5 724.9" fill="none" stroke="#4a2ea8" stroke-width="1.15" stroke-linejoin="round"/>
<path d="M1318 272H1323V286.6L1331 279.7V286.8L1320.5 297L1310 286.8V279.7L1318 286.6Z" fill="#b50b0b"/>
<g fill="#acaa9b"><rect x="6" y="618" width="10" height="5.8" rx="0.6"/><rect x="6" y="625.2" width="10" height="1.7"/><rect x="11" y="622.1" width="4" height="0.8" fill="#f3efd5"/><rect x="13" y="619" width="2" height="0.8" fill="#f3efd5" opacity="0.8"/></g><path d="M20.650000000000002 619.8L27.05 626.2M27.05 619.8L20.650000000000002 626.2" stroke="#acaa9b" stroke-width="2.5" fill="none"/>
<g fill="#acaa9b"><rect x="6" y="788" width="10" height="5.8" rx="0.6"/><rect x="6" y="795.2" width="10" height="1.7"/><rect x="11" y="792.1" width="4" height="0.8" fill="#f3efd5"/><rect x="13" y="789" width="2" height="0.8" fill="#f3efd5" opacity="0.8"/></g><path d="M20.650000000000002 789.8L27.05 796.2M27.05 789.8L20.650000000000002 796.2" stroke="#acaa9b" stroke-width="2.5" fill="none"/>
<path d="M10 10.5Q10 8 12.5 8H174.7Q177.2 8 177.2 10.5V32H10Z" fill="#fcfcf5"/>
<rect x="126.7" y="11.3" width="44.5" height="15.4" fill="#fefefb"/>
<path d="M83.3 15.1H90.8L87.05 19.2Z" fill="#8b8b8b"/>
<path d="M159 17.3H166.7L162.85 21.2Z" fill="#8b8b8b"/>
</svg>
<div style="position:absolute;left:0;top:0;width:1482px;height:828px;will-change:transform">
<div class="a pl" style="top:48px">7040.0</div>
<div class="a pl" style="top:85px">7020.5</div>
<div class="a pl" style="top:121px">7001.0</div>
<div class="a pl" style="top:157px">6981.5</div>
<div class="a pl" style="top:194px">6962.0</div>
<div class="a pl" style="top:230px">6942.5</div>
<div class="a pl" style="top:266px">6923.0</div>
<div class="a pl" style="top:303px">6903.5</div>
<div class="a pl" style="top:339px">6884.0</div>
<div class="a pl" style="top:376px">6864.5</div>
<div class="a pl" style="top:412px">6845.0</div>
<div class="a pl" style="top:448px">6825.5</div>
<div class="a pl" style="top:485px">6806.0</div>
<div class="a pl" style="top:521px">6786.5</div>
<div class="a pl" style="top:557px">6767.0</div>
<div class="a pl" style="top:594px">6747.5</div>
<div class="a pl" style="top:625px">6728.0</div>
<div class="a pl" style="top:664px">80.0</div>
<div class="a pl" style="top:765px">20.0</div>
<svg width="1482" height="828" viewBox="0 0 1482 828"><path d="M1411 262.5L1418.3 254H1470V271H1418.3Z" fill="#87939b"/></svg>
<div class="a" style="left:1422px;top:257px;font-size:12px;font-weight:bold;color:#fff">6928.8</div>
<div class="a tl" style="left:5.5px">07.01.2026</div>
<div class="a tl" style="left:73.7px">01:00</div>
<div class="a tl" style="left:143.5px">08.01</div>
<div class="a tl" style="left:180.1px">10:00</div>
<div class="a tl" style="left:281.5px">09.01</div>
<div class="a tl" style="left:318.1px">19:00</div>
<div class="a tl" style="left:419.5px">13.01</div>
<div class="a tl" style="left:456.1px">06:00</div>
<div class="a tl" style="left:557.5px">14.01</div>
<div class="a tl" style="left:594.1px">15:00</div>
<div class="a tl" style="left:695.5px">16.01</div>
<div class="a tl" style="left:732.1px">01:00</div>
<div class="a tl" style="left:833.5px">19.01</div>
<div class="a tl" style="left:870.1px">11:00</div>
<div class="a tl" style="left:971.5px">21.01</div>
<div class="a tl" style="left:1008.1px">01:00</div>
<div class="a tl" style="left:1109.5px">22.01</div>
<div class="a tl" style="left:1146.1px">10:00</div>
<div class="a tl" style="left:1247.5px">23.01</div>
<div class="a tl" style="left:1284.1px">19:00</div>
<div class="a tl" style="left:1385.5px">27.01</div>
<div class="a tl" style="left:1422.1px">05:00</div>
<div class="a lg" style="left:31.3px;top:620.5px;transform-origin:0 0;transform:scaleX(0.9367)">EMA</div>
<div class="a lg" style="left:56.9px;top:620.5px;transform-origin:0 0;transform:scaleX(0.8929)">[50,</div>
<div class="a lg" style="left:77.8px;top:620.5px;transform-origin:0 0;transform:scaleX(0.8989)">0]</div>
<div class="a lg" style="left:89.8px;top:620.5px;transform-origin:0 0;transform:scaleX(0.9904)">6932.2</div>
<div class="a lg" style="left:31.3px;top:790.5px;transform-origin:0 0;transform:scaleX(0.8097)">RSI</div>
<div class="a lg" style="left:50.8px;top:790.5px;transform-origin:0 0;transform:scaleX(0.9169)">[14]</div>
<div class="a lg" style="left:72.1px;top:790.5px;transform-origin:0 0;transform:scaleX(0.9862)">46.9</div>
<div class="a" style="left:1337.3px;top:609.6px;font-size:13.3px;color:#f7931e;transform-origin:0 0;transform:scaleX(0.9867)">54</div>
<div class="a" style="left:1353.9px;top:609.6px;font-size:13.3px;color:#b0b7c3;transform-origin:0 0;transform:scaleX(1.1120)">мин</div>
<div class="a" style="left:1385.5px;top:609.6px;font-size:13.3px;color:#f7931e;transform-origin:0 0;transform:scaleX(1.0070)">32</div>
<div class="a" style="left:1402.4px;top:609.6px;font-size:13.3px;color:#b0b7c3;transform-origin:0 0;transform:scaleX(1.0248)">с.</div>
<div class="a" style="left:20.3px;top:12px;font-size:13px;font-weight:bold;color:#3a4852;transform-origin:0 0;transform:scaleX(0.9)">US500</div>
<div class="a" style="left:59.9px;top:16px;font-size:8.2px;font-weight:bold;color:#808080;transform-origin:0 0;transform:scaleX(0.86)">CFD</div>
<div class="a" style="left:132.6px;top:15.7px;font-size:9.8px;color:#55636e;transform-origin:0 0;transform:scaleX(0.95)">H1</div>
</div>
</body></html>
